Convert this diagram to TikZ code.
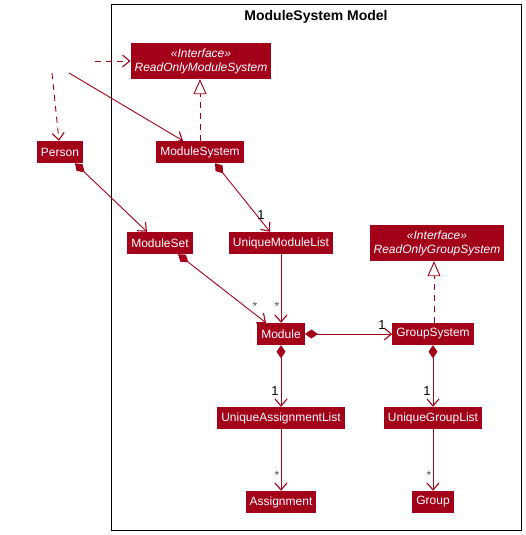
\documentclass[tikz,border=0pt]{standalone}
\usepackage{fontspec}
\setmainfont{Liberation Sans}
\usetikzlibrary{arrows.meta}
\definecolor{umlred}{RGB}{163,0,25}

\tikzset{
  cls/.style={fill=umlred, text=white, inner xsep=4pt, inner ysep=0pt,
    minimum height=22pt, font=\fontsize{12}{14}\selectfont},
  iface/.style={cls, minimum height=36pt, align=center,
    font=\fontsize{12}{14}\selectfont\itshape},
  assoc/.style={umlred, line width=0.9pt, -{Straight Barb[length=7pt,width=12pt,line width=1.1pt]}},
  comp/.style={assoc, {Diamond[length=13pt,width=9pt]}-{Straight Barb[length=7pt,width=12pt,line width=1.1pt]}},
  dep/.style={assoc, dash pattern=on 6pt off 5pt},
  real/.style={umlred, line width=0.9pt, dash pattern=on 6pt off 5pt,
    -{Triangle[open,length=15pt,width=13pt,fill=white]}},
  mult/.style={font=\fontsize{13}{15}\selectfont, inner sep=0pt},
  star/.style={font=\fontsize{12}{14}\selectfont, text=black!70, inner sep=0pt}
}

\begin{document}
\begin{tikzpicture}[x=1pt, y=-1pt]

\useasboundingbox (0,0) rectangle (526,535);

% package frame
\draw[black, line width=1pt] (111,5) rectangle (521,530);
\node[font=\fontsize{14}{16}\selectfont\bfseries] (title) at (316,17) {ModuleSystem Model};

% free ends of the outside connectors
\coordinate (depA) at (95,61);
\coordinate (depB) at (52,73);
\coordinate (assocC) at (69,73);

% classes
\node[iface] (romsys) at (201,61) {«Interface»\\ReadOnlyModuleSystem};
\node[cls] (person) at (60,152) {Person};
\node[cls] (msys) at (200,152) {ModuleSystem};
\node[cls] (modset) at (160,243) {ModuleSet};
\node[cls] (uml) at (281,243) {UniqueModuleList};
\node[iface] (rogsys) at (437,243) {«Interface»\\ReadOnlyGroupSystem};
\node[cls] (module) at (281,334) {Module};
\node[cls] (gsys) at (433,334) {GroupSystem};
\node[cls] (ual) at (281,418) {UniqueAssignmentList};
\node[cls] (ugl) at (433,418) {UniqueGroupList};
\node[cls] (assign) at (281,502) {Assignment};
\node[cls] (group) at (433,502) {Group};

% connectors from outside the frame
\draw[dep] (depA) -- (romsys.west);
\draw[dep] (depB) -- ([xshift=-1pt]person.north);
\draw[assoc] (assocC) -- ([xshift=-17pt]msys.north);

% realizations
\draw[real] (msys.north) -- (msys.north |- romsys.south);
\draw[real] ([xshift=1pt]gsys.north) -- ([xshift=1pt]gsys.north |- rogsys.south);

% compositions and associations
\draw[comp] ([xshift=15pt]person.south) -- ([xshift=-13pt]modset.north);
\draw[comp] ([xshift=15pt]msys.south) -- ([xshift=-11pt]uml.north);
\draw[comp] ([xshift=18pt]modset.south) -- ([xshift=-15pt]module.north);
\draw[assoc] (uml.south) -- (module.north);
\draw[comp] (module.east) -- (gsys.west);
\draw[comp] (module.south) -- (ual.north);
\draw[comp] (gsys.south) -- (ugl.north);
\draw[assoc] (ual.south) -- (assign.north);
\draw[assoc] (ugl.south) -- (group.north);

% multiplicities
\node[mult] (m1) at (261,215) {1};
\node[star] (s1) at (255,306) {*};
\node[star] (s2) at (277,306) {*};
\node[mult] (m2) at (382,325) {1};
\node[mult] (m3) at (275,391) {1};
\node[mult] (m4) at (427,391) {1};
\node[star] (s3) at (277,475) {*};
\node[star] (s4) at (429,475) {*};

\end{tikzpicture}
\end{document}
